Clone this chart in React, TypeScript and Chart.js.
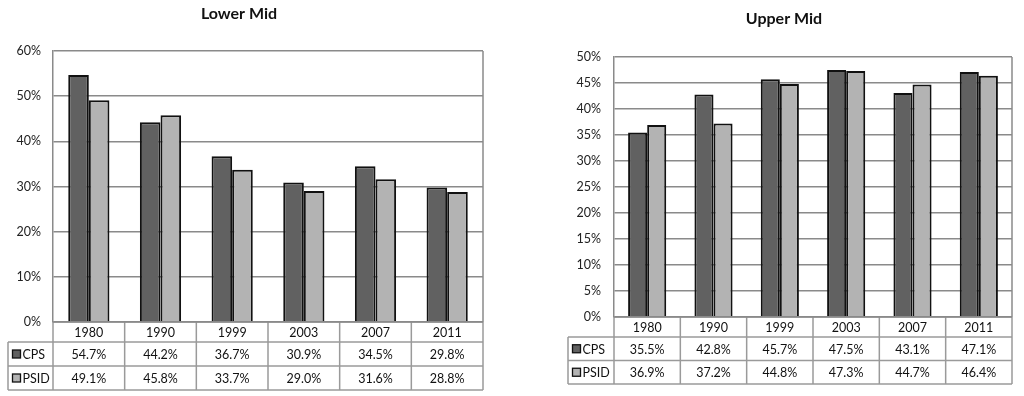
import React, { useEffect, useRef } from "react";
import { Chart, registerables } from "chart.js";

Chart.register(...registerables);

const years = ["1980", "1990", "1999", "2003", "2007", "2011"];
const seriesNames = ["CPS", "PSID"];
const lowerCps = [54.7, 44.2, 36.7, 30.9, 34.5, 29.8];
const lowerPsid = [49.1, 45.8, 33.7, 29.0, 31.6, 28.8];
const upperCps = [35.5, 42.8, 45.7, 47.5, 43.1, 47.1];
const upperPsid = [36.9, 37.2, 44.8, 47.3, 44.7, 46.4];
const lowerTitle = "Lower Mid";
const upperTitle = "Upper Mid";

const DARK = "#616161";
const LIGHT = "#b3b3b3";
const GRID = "#8a8a8a";
const TABLE = "#9a9a9a";
const FONT = "Lato, 'Open Sans', sans-serif";

type Layout = {
  padLeft: number;
  yAxisWidth: number;
  padTop: number;
  padRight: number;
  padBottom: number;
  tableLeft: number;
  headerH: number;
  rowH: number;
  tickPad: number;
  titleX: number;
  titleY: number;
  max: number;
  step: number;
};

function ChartPanel(props: {
  title: string;
  cps: number[];
  psid: number[];
  layout: Layout;
  left: number;
}) {
  const ref = useRef<HTMLCanvasElement | null>(null);
  useEffect(() => {
    const L = props.layout;
    const series = [props.cps, props.psid];
    const tablePlugin = {
      id: "tablePlugin",
      beforeDatasetsDraw(chart: any) {
        const { ctx, chartArea } = chart;
        ctx.save();
        ctx.strokeStyle = GRID;
        ctx.lineWidth = 1.5;
        ctx.beginPath();
        ctx.moveTo(chartArea.right, chartArea.top);
        ctx.lineTo(chartArea.right, chartArea.bottom);
        ctx.stroke();
        ctx.restore();
      },
      afterDraw(chart: any) {
        const { ctx, chartArea, scales } = chart;
        const x = scales.x;
        const n = years.length;
        const edges: number[] = [];
        for (let i = 0; i <= n; i++) {
          if (i === 0) edges.push(chartArea.left);
          else if (i === n) edges.push(chartArea.right);
          else edges.push((x.getPixelForValue(i - 1) + x.getPixelForValue(i)) / 2);
        }
        const top = chartArea.bottom;
        const r1 = top + L.headerH;
        const r2 = r1 + L.rowH;
        const r3 = r2 + L.rowH;
        ctx.save();
        ctx.fillStyle = "#111";
        ctx.font = `bold 16px ${FONT}`;
        ctx.textAlign = "center";
        ctx.textBaseline = "middle";
        ctx.fillText(props.title, L.titleX, L.titleY);

        ctx.strokeStyle = TABLE;
        ctx.lineWidth = 1.5;
        ctx.beginPath();
        ctx.moveTo(L.tableLeft, r1);
        ctx.lineTo(chartArea.right, r1);
        ctx.moveTo(L.tableLeft, r2);
        ctx.lineTo(chartArea.right, r2);
        ctx.moveTo(L.tableLeft, r3);
        ctx.lineTo(chartArea.right, r3);
        ctx.moveTo(L.tableLeft, r1);
        ctx.lineTo(L.tableLeft, r3);
        for (let i = 0; i <= n; i++) {
          ctx.moveTo(edges[i], top);
          ctx.lineTo(edges[i], r3);
        }
        ctx.stroke();
        ctx.strokeStyle = GRID;
        ctx.beginPath();
        ctx.moveTo(chartArea.left, top);
        ctx.lineTo(chartArea.right, top);
        ctx.stroke();

        ctx.fillStyle = "#111";
        ctx.font = `12.5px ${FONT}`;
        ctx.textAlign = "center";
        ctx.textBaseline = "middle";
        for (let i = 0; i < n; i++) {
          const cx = (edges[i] + edges[i + 1]) / 2;
          ctx.fillText(years[i], cx, (top + r1) / 2 + 1);
          ctx.fillText(series[0][i].toFixed(1) + "%", cx, (r1 + r2) / 2 + 1);
          ctx.fillText(series[1][i].toFixed(1) + "%", cx, (r2 + r3) / 2 + 1);
        }
        const rows = [(r1 + r2) / 2, (r2 + r3) / 2];
        const colors = [DARK, LIGHT];
        for (let k = 0; k < 2; k++) {
          const sx = L.tableLeft + 4.5;
          const sy = rows[k] - 4;
          ctx.fillStyle = colors[k];
          ctx.fillRect(sx, sy, 8, 8);
          ctx.strokeStyle = "#111";
          ctx.lineWidth = 1.3;
          ctx.strokeRect(sx, sy, 8, 8);
          ctx.fillStyle = "#111";
          ctx.textAlign = "left";
          ctx.fillText(seriesNames[k], sx + 10, rows[k] + 1);
        }
        ctx.restore();
      },
    };

    const chart = new Chart(ref.current as HTMLCanvasElement, {
      type: "bar",
      data: {
        labels: years,
        datasets: [
          {
            label: seriesNames[0],
            data: props.cps,
            backgroundColor: DARK,
            borderColor: "#111",
            borderWidth: 2,
            categoryPercentage: 0.575,
            barPercentage: 1.0,
          },
          {
            label: seriesNames[1],
            data: props.psid,
            backgroundColor: LIGHT,
            borderColor: "#111",
            borderWidth: 2,
            categoryPercentage: 0.575,
            barPercentage: 1.0,
          },
        ],
      },
      options: {
        responsive: false,
        animation: false,
        layout: {
          padding: {
            left: L.padLeft,
            top: L.padTop,
            right: L.padRight,
            bottom: L.padBottom,
          },
        },
        plugins: {
          legend: { display: false },
          title: { display: false },
          tooltip: { enabled: false },
        },
        scales: {
          x: { display: false },
          y: {
            min: 0,
            max: L.max,
            grid: { color: GRID, lineWidth: 1.5, drawTicks: false },
            border: { color: GRID, width: 1.5 },
            afterFit: (scale: any) => {
              scale.width = L.yAxisWidth;
            },
            ticks: {
              stepSize: L.step,
              padding: L.tickPad,
              color: "#222",
              font: { family: FONT, size: 12.5 },
              callback: (v: any) => v + "%",
            },
          },
        },
      },
      plugins: [tablePlugin],
    });
    return () => chart.destroy();
  }, []);
  return (
    <canvas
      ref={ref}
      width={512}
      height={396}
      style={{ position: "absolute", left: props.left, top: 0, width: 512, height: 396 }}
    />
  );
}

const lowerLayout: Layout = {
  padLeft: 0,
  yAxisWidth: 53,
  padTop: 51,
  padRight: 29,
  padBottom: 74,
  tableLeft: 8,
  headerH: 20,
  rowH: 24,
  tickPad: 12,
  titleX: 239,
  titleY: 14,
  max: 60,
  step: 10,
};

const upperLayout: Layout = {
  padLeft: 0,
  yAxisWidth: 102,
  padTop: 57,
  padRight: 12,
  padBottom: 79,
  tableLeft: 56,
  headerH: 20,
  rowH: 23.5,
  tickPad: 13,
  titleX: 272,
  titleY: 19,
  max: 50,
  step: 5,
};

export default function App() {
  return (
    <div style={{ position: "absolute", left: 0, top: 0, width: 1024, height: 396, background: "#fff" }}>
      <ChartPanel title={lowerTitle} cps={lowerCps} psid={lowerPsid} layout={lowerLayout} left={0} />
      <ChartPanel title={upperTitle} cps={upperCps} psid={upperPsid} layout={upperLayout} left={512} />
    </div>
  );
}
